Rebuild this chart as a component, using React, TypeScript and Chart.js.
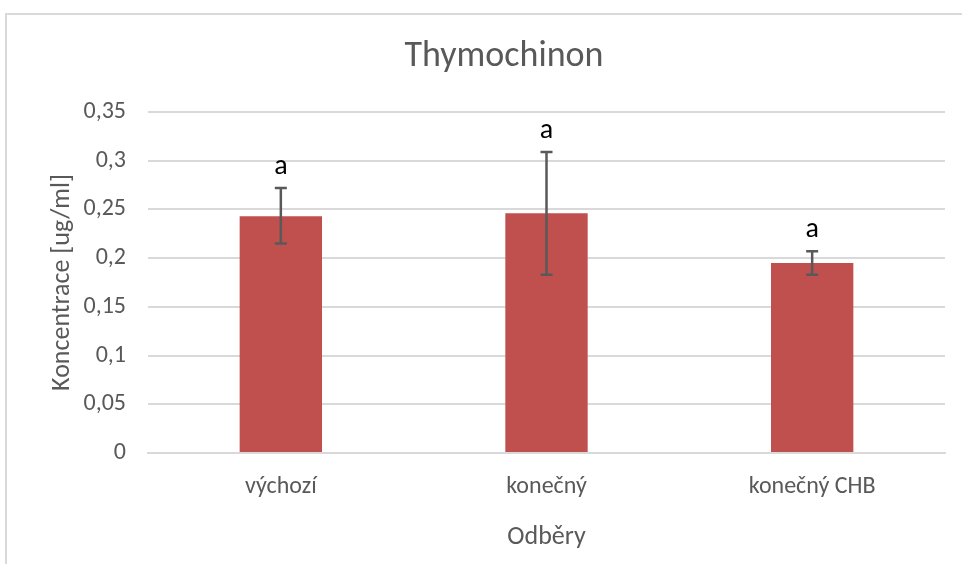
import React, { useEffect, useRef } from 'react';
import { Chart, registerables } from 'chart.js';

Chart.register(...registerables);

const categories = ['výchozí', 'konečný', 'konečný CHB'];
const means = [0.243, 0.246, 0.195];
const errLow = [0.215, 0.183, 0.183];
const errHigh = [0.272, 0.309, 0.207];
const groupLetters = ['a', 'a', 'a'];
const yMin = 0;
const yMax = 0.35;
const yStep = 0.05;

const titleText = 'Thymochinon';
const yTitle = 'Koncentrace [ug/ml]';
const xTitle = 'Odběry';

const FONT = 'Carlito, Lato, "Open Sans", sans-serif';
const GRAY = '#595959';

const overlay = {
  id: 'overlay',
  beforeDraw(chart: any) {
    const ctx = chart.ctx;
    ctx.save();
    ctx.fillStyle = '#ffffff';
    ctx.fillRect(0, 0, chart.width, chart.height);
    ctx.strokeStyle = '#d9d9d9';
    ctx.lineWidth = 2;
    ctx.strokeRect(6, 14, chart.width + 20, chart.height + 20);
    ctx.restore();
  },
  afterDatasetsDraw(chart: any) {
    const ctx = chart.ctx;
    const meta = chart.getDatasetMeta(0);
    const y = chart.scales.y;
    const area = chart.chartArea;
    ctx.save();
    ctx.strokeStyle = GRAY;
    ctx.lineWidth = 2.5;
    meta.data.forEach((bar: any, i: number) => {
      const x = bar.x;
      const yt = y.getPixelForValue(errHigh[i]);
      const yb = y.getPixelForValue(errLow[i]);
      ctx.beginPath();
      ctx.moveTo(x, yt);
      ctx.lineTo(x, yb);
      ctx.moveTo(x - 6, yt);
      ctx.lineTo(x + 6, yt);
      ctx.moveTo(x - 6, yb);
      ctx.lineTo(x + 6, yb);
      ctx.stroke();
      ctx.fillStyle = '#000000';
      ctx.font = `28px ${FONT}`;
      ctx.textAlign = 'center';
      ctx.textBaseline = 'alphabetic';
      ctx.fillText(groupLetters[i], x, yt - 14);
    });
    // title
    ctx.fillStyle = GRAY;
    ctx.font = `36px ${FONT}`;
    ctx.textAlign = 'center';
    ctx.textBaseline = 'middle';
    ctx.fillText(titleText, 504, 57);
    // x title
    ctx.font = `26px ${FONT}`;
    ctx.fillText(xTitle, (area.left + area.right) / 2, 537);
    // y title
    ctx.translate(62, (area.top + area.bottom) / 2);
    ctx.rotate(-Math.PI / 2);
    ctx.fillText(yTitle, 0, 0);
    ctx.restore();
  },
};

export default function App() {
  const ref = useRef<HTMLCanvasElement>(null);
  useEffect(() => {
    if (!ref.current) return;
    const chart = new Chart(ref.current, {
      type: 'bar',
      data: {
        labels: categories,
        datasets: [
          {
            data: means,
            backgroundColor: '#c0504d',
            borderWidth: 0,
            barPercentage: 0.31,
            categoryPercentage: 1,
          },
        ],
      },
      options: {
        responsive: false,
        animation: false,
        layout: { padding: { left: 0, top: 112, right: 17, bottom: 0 } },
        plugins: {
          legend: { display: false },
          tooltip: { enabled: false },
          title: { display: false },
        },
        scales: {
          x: {
            grid: { display: false, drawTicks: false },
            border: { color: '#d9d9d9', width: 2 },
            ticks: {
              color: GRAY,
              font: { family: FONT, size: 24 },
              padding: 20,
            },
            afterFit(scale: any) {
              scale.height = 111;
            },
          },
          y: {
            min: yMin,
            max: yMax,
            grid: { color: '#d9d9d9', lineWidth: 2, drawTicks: false },
            border: { display: false },
            ticks: {
              stepSize: yStep,
              color: GRAY,
              font: { family: FONT, size: 24 },
              padding: 22,
              callback: (v: any) => Number(Number(v).toFixed(2)).toString().replace('.', ','),
            },
            afterFit(scale: any) {
              scale.width = 148;
            },
          },
        },
      },
      plugins: [overlay],
    });
    return () => chart.destroy();
  }, []);
  return (
    <div style={{ position: 'fixed', left: 0, top: 0, width: 962, height: 564, background: '#fff' }}>
      <canvas ref={ref} width={962} height={564} style={{ width: 962, height: 564, display: 'block' }} />
    </div>
  );
}
